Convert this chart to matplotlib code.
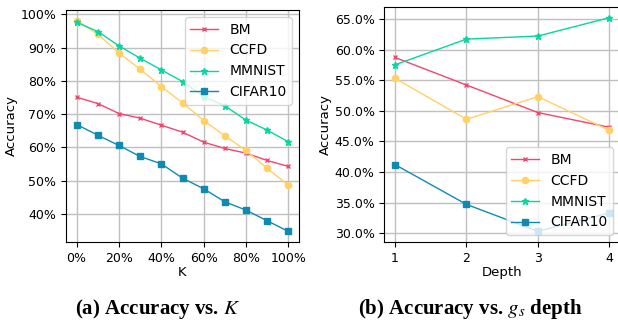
import numpy as np
import matplotlib
matplotlib.use("Agg")
import matplotlib.pyplot as plt
from matplotlib.ticker import PercentFormatter

# Datos (a): precisión vs K
k_vals = [0, 10, 20, 30, 40, 50, 60, 70, 80, 90, 100]
bm_k = [75.1, 73.2, 70.2, 68.8, 66.7, 64.6, 61.6, 59.7, 58.3, 56.1, 54.3]
ccfd_k = [98.1, 94.0, 88.4, 83.5, 78.3, 73.4, 68.1, 63.5, 59.1, 53.7, 48.7]
mmnist_k = [97.6, 94.8, 90.5, 86.8, 83.3, 79.8, 75.3, 72.5, 68.2, 65.2, 61.7]
cifar_k = [66.9, 63.7, 60.6, 57.3, 55.1, 50.8, 47.6, 43.7, 41.2, 38.0, 34.8]

# Datos (b): precisión vs profundidad
depth = [1, 2, 3, 4]
bm_d = [58.7, 54.2, 49.7, 47.3]
ccfd_d = [55.3, 48.6, 52.3, 46.8]
mmnist_d = [57.5, 61.7, 62.2, 65.2]
cifar_d = [41.2, 34.7, 30.3, 33.3]

nombres = ["BM", "CCFD", "MMNIST", "CIFAR10"]
colores = ["#ef476f", "#ffd166", "#06d6a0", "#118ab2"]
marcadores = ["x", "o", "*", "s"]
tam_marc = [3.5, 4.5, 4.5, 4.5]

plt.rcParams["mathtext.fontset"] = "stix"

fig = plt.figure(figsize=(6.18, 3.24), dpi=100)
ax1 = fig.add_axes([66 / 618, 1 - 242 / 324, 233 / 618, 232 / 324])
ax2 = fig.add_axes([384.3 / 618, 1 - 242 / 324, 235.7 / 618, 235 / 324])

# Grafico (a)
for serie, nombre, c, m, ms in zip([bm_k, ccfd_k, mmnist_k, cifar_k], nombres, colores, marcadores, tam_marc):
    ax1.plot(k_vals, serie, color=c, marker=m, markersize=ms, linewidth=1, label=nombre)
ax1.set_xlabel("K", fontsize=9.5, labelpad=1)
ax1.set_ylabel("Accuracy", fontsize=9.5, labelpad=2)
ax1.xaxis.set_major_formatter(PercentFormatter(xmax=100, decimals=0))
ax1.yaxis.set_major_formatter(PercentFormatter(xmax=100, decimals=0))
ax1.tick_params(labelsize=9)
ax1.grid(True, color="#c0c0c0", linewidth=1)
ax1.legend(loc="upper right", fontsize=10)

# Grafico (b)
for serie, nombre, c, m, ms in zip([bm_d, ccfd_d, mmnist_d, cifar_d], nombres, colores, marcadores, tam_marc):
    ax2.plot(depth, serie, color=c, marker=m, markersize=ms, linewidth=1, label=nombre)
ax2.set_xlabel("Depth", fontsize=9.5, labelpad=1)
ax2.set_ylabel("Accuracy", fontsize=9.5, labelpad=2)
ax2.set_xticks(depth)
ax2.yaxis.set_major_formatter(PercentFormatter(xmax=100, decimals=1))
ax2.tick_params(labelsize=9)
ax2.grid(True, color="#c0c0c0", linewidth=1)
ax2.legend(loc="lower right", fontsize=10)

# Subtitulos
fig.text(158 / 618, 1 - 314 / 324, r"(a) Accuracy vs. $K$", ha="center", va="baseline",
         fontsize=15, fontweight="bold", family="Liberation Serif")
fig.text(470 / 618, 1 - 314 / 324, r"(b) Accuracy vs. $g_s$ depth", ha="center", va="baseline",
         fontsize=15, fontweight="bold", family="Liberation Serif")

plt.savefig("out.png", dpi=100)
plt.close()
